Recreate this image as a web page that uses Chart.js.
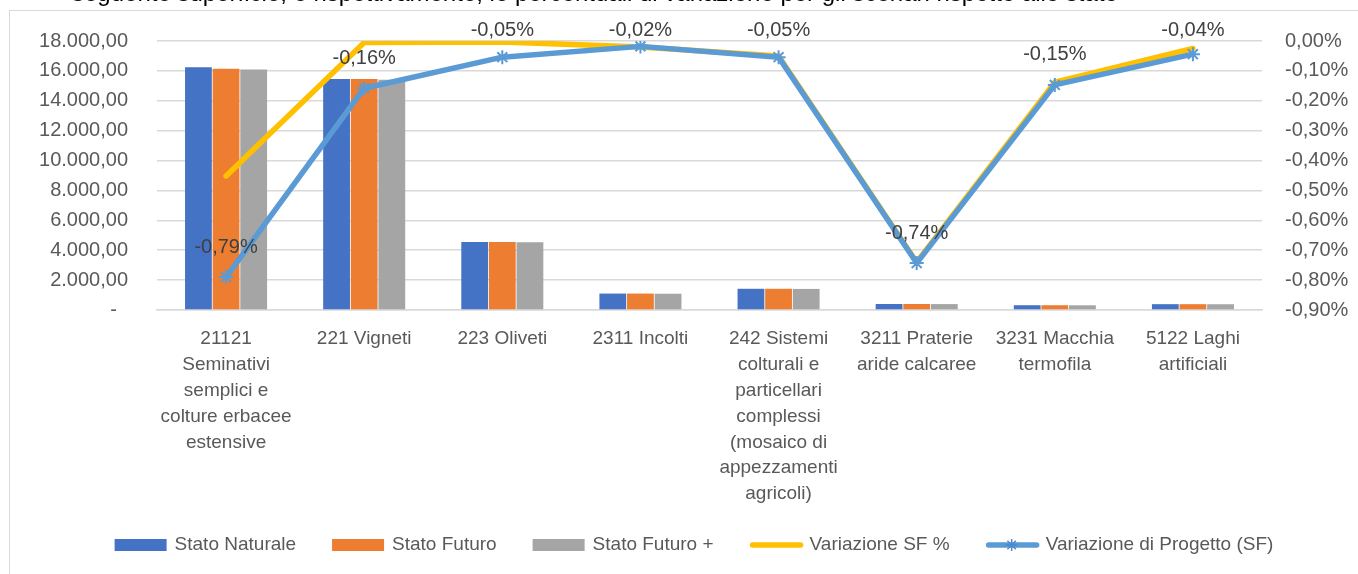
<!DOCTYPE html>
<html>
<head>
<meta charset="utf-8">
<script src="https://cdn.jsdelivr.net/npm/chart.js@4.4.1/dist/chart.umd.min.js"></script>
<style>
html, body { margin: 0; padding: 0; background: #fff; overflow: hidden; }
#wrap { position: relative; width: 1358px; height: 574px; overflow: hidden; }
#frame { position: absolute; left: 9px; top: 10px; width: 1400px; height: 600px;
         border-left: 1.5px solid #d9d9d9; border-top: 1.5px solid #d9d9d9; }
#doc { position: absolute; left: 72px; top: -19px; font: 24px "Liberation Sans", Arial, sans-serif;
       line-height: 24px; color: #000; white-space: nowrap; z-index: 2; }
canvas { position: absolute; left: 0; top: 0; }
</style>
</head>
<body>
<div id="wrap">
  <div id="frame"></div>
  <div id="doc">seguente superficie, e rispettivamente, le percentuali di variazione per gli scenari rispetto allo stato</div>
  <canvas id="chart" width="1358" height="574"></canvas>
</div>
<script>
const categories = [
    ['21121', 'Seminativi', 'semplici e', 'colture erbacee', 'estensive'],
    '221 Vigneti',
    '223 Oliveti',
    '2311 Incolti',
    ['242 Sistemi', 'colturali e', 'particellari', 'complessi', '(mosaico di', 'appezzamenti', 'agricoli)'],
    ['3211 Praterie', 'aride calcaree'],
    ['3231 Macchia', 'termofila'],
    ['5122 Laghi', 'artificiali']
];

const statoNaturale = [16250, 15450, 4550, 1100, 1420, 400, 320, 390];
const statoFuturo = [16150, 15450, 4550, 1100, 1420, 400, 320, 390];
const statoFuturoPlus = [16100, 15400, 4540, 1090, 1410, 395, 315, 385];
const variazioneSF = [-0.452, -0.005, -0.003, -0.02, -0.05, -0.74, -0.138, -0.025];
const variazioneProgetto = [-0.79, -0.158, -0.054, -0.018, -0.054, -0.743, -0.147, -0.044];

const leftTicks = { min: 0, max: 18000, step: 2000 };
const rightTicks = { min: -0.9, max: 0, step: 0.1 };

const FONT = '"Liberation Sans", Arial, sans-serif';
const TEXT = '#595959';

function formatIt(n) {
    if (n === 0) return '-  ';
    const parts = n.toFixed(2).split('.');
    const intPart = parts[0].replace(/\B(?=(\d{3})+(?!\d))/g, '.');
    return intPart + ',' + parts[1];
}

function formatPct(v) {
    return v.toFixed(2).replace('.', ',') + '%';
}

// labels over the blue line points
const pointLabels = {
    id: 'pointLabels',
    afterDatasetsDraw(chart) {
        const meta = chart.getDatasetMeta(4);
        const ctx = chart.ctx;
        ctx.save();
        ctx.font = '20px ' + FONT;
        ctx.fillStyle = '#404040';
        ctx.textAlign = 'center';
        ctx.textBaseline = 'middle';
        meta.data.forEach((pt, i) => {
            const y = Math.max(pt.y - 30, 30);
            ctx.fillText(formatPct(variazioneProgetto[i]), pt.x, y);
        });
        ctx.restore();
    }
};

// legend drawn by hand so the line series show as lines
const bottomLegend = {
    id: 'bottomLegend',
    afterDraw(chart) {
        const ctx = chart.ctx;
        const ds = chart.data.datasets;
        ctx.save();
        ctx.font = '19px ' + FONT;
        const boxW = 52, gap = 8, itemGap = 36;
        const widths = ds.map(d => boxW + gap + ctx.measureText(d.label).width);
        const total = widths.reduce((a, b) => a + b, 0) + itemGap * (ds.length - 1);
        let x = chart.width / 2 + 15 - total / 2;
        const y = 545;
        ds.forEach((d, i) => {
            if (d.type === 'line') {
                ctx.strokeStyle = d.borderColor;
                ctx.lineWidth = 5.5;
                ctx.lineCap = 'round';
                ctx.beginPath();
                ctx.moveTo(x + 3, y);
                ctx.lineTo(x + boxW - 1, y);
                ctx.stroke();
                if (d.pointStyle === 'star') {
                    ctx.lineWidth = 1.5;
                    ctx.lineCap = 'butt';
                    ctx.strokeStyle = '#4a8ccc';
                    Chart.helpers.drawPoint(ctx, { pointStyle: 'star', radius: 6, borderWidth: 1.5 }, x + boxW / 2, y);
                }
            } else {
                ctx.fillStyle = d.backgroundColor;
                ctx.fillRect(x, y - 6, boxW, 12);
            }
            ctx.fillStyle = TEXT;
            ctx.textAlign = 'left';
            ctx.textBaseline = 'middle';
            ctx.fillText(d.label, x + boxW + gap, y);
            x += widths[i] + itemGap;
        });
        ctx.restore();
    }
};

const ctx = document.getElementById('chart').getContext('2d');
new Chart(ctx, {
    type: 'bar',
    data: {
        labels: categories,
        datasets: [
            { label: 'Stato Naturale', data: statoNaturale, backgroundColor: '#4472C4', yAxisID: 'y', order: 2 },
            { label: 'Stato Futuro', data: statoFuturo, backgroundColor: '#ED7D31', yAxisID: 'y', order: 2 },
            { label: 'Stato Futuro +', data: statoFuturoPlus, backgroundColor: '#A5A5A5', yAxisID: 'y', order: 2 },
            {
                type: 'line', label: 'Variazione SF %', data: variazioneSF, yAxisID: 'y1', order: 1,
                borderColor: '#FFC000', backgroundColor: '#FFC000', borderWidth: 5.5,
                borderCapStyle: 'round', borderJoinStyle: 'round', pointRadius: 0, tension: 0
            },
            {
                type: 'line', label: 'Variazione di Progetto (SF)', data: variazioneProgetto, yAxisID: 'y1', order: 0,
                borderColor: '#5B9BD5', backgroundColor: '#5B9BD5', borderWidth: 5.5,
                borderCapStyle: 'round', borderJoinStyle: 'round',
                pointStyle: 'star', pointRadius: 7, pointBorderWidth: 2,
                pointBorderColor: '#5B9BD5', tension: 0
            }
        ]
    },
    options: {
        responsive: false,
        animation: false,
        events: [],
        datasets: { bar: { categoryPercentage: 0.6, barPercentage: 0.97 } },
        layout: { padding: { top: 38, left: 0, right: 0, bottom: 0 } },
        plugins: { legend: { display: false }, tooltip: { enabled: false } },
        scales: {
            x: {
                grid: { display: false, drawTicks: false },
                border: { display: true, color: '#d9d9d9', width: 1.5 },
                ticks: { color: TEXT, font: { family: FONT, size: 19, lineHeight: 1.36 },
                         padding: 16, autoSkip: false, maxRotation: 0 },
                afterFit(scale) { scale.height = 264; }
            },
            y: {
                position: 'left',
                min: leftTicks.min, max: leftTicks.max,
                grid: { color: '#d9d9d9', lineWidth: 1.5, drawTicks: false },
                border: { display: false },
                ticks: { stepSize: leftTicks.step, color: TEXT, padding: 29,
                         font: { family: FONT, size: 20 }, callback: v => formatIt(v) },
                afterFit(scale) { scale.width = 157; }
            },
            y1: {
                position: 'right',
                min: rightTicks.min, max: rightTicks.max,
                grid: { display: false, drawTicks: false },
                border: { display: false },
                ticks: { stepSize: rightTicks.step, color: TEXT, padding: 23,
                         font: { family: FONT, size: 20 }, callback: v => formatPct(v) },
                afterFit(scale) { scale.width = 96; }
            }
        }
    },
    plugins: [pointLabels, bottomLegend]
});
</script>
</body>
</html>
